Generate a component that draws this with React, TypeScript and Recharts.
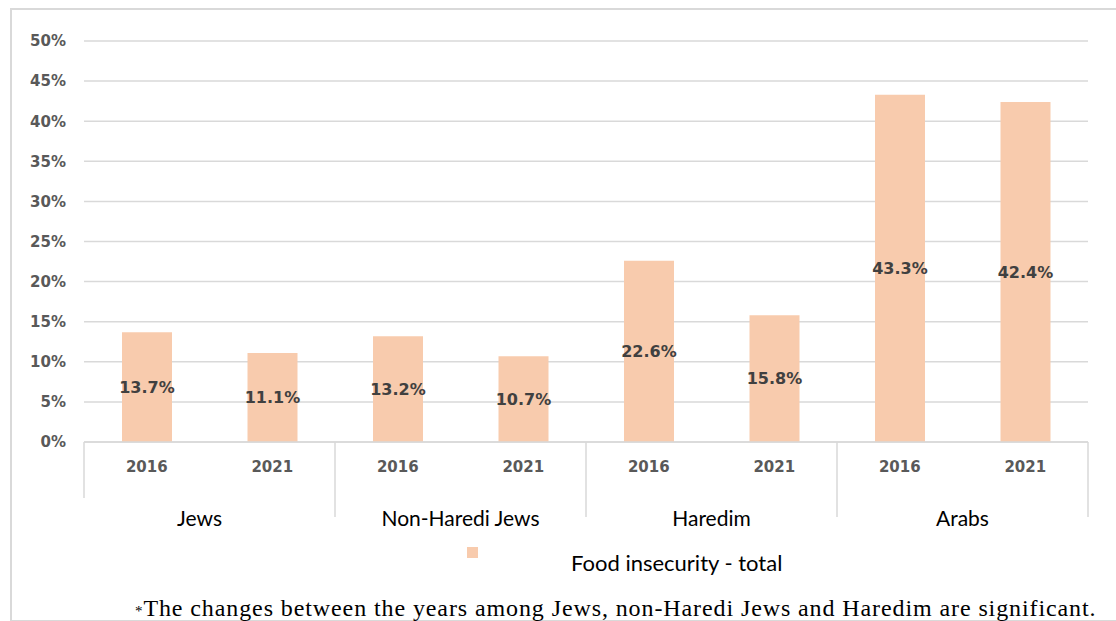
import React from 'react'
import { BarChart, Bar, XAxis, YAxis, CartesianGrid, LabelList } from 'recharts'

const GROUPS = ['Jews', 'Non-Haredi Jews', 'Haredim', 'Arabs']
const YEARS = ['2016', '2021']
const FOOD_INSECURITY = [13.7, 11.1, 13.2, 10.7, 22.6, 15.8, 43.3, 42.4]
const Y_TICKS = [0, 5, 10, 15, 20, 25, 30, 35, 40, 45, 50]

const data = GROUPS.flatMap((group, g) =>
  YEARS.map((year, y) => ({ group, year, total: FOOD_INSECURITY[g * YEARS.length + y] }))
)

const W = 1116
const H = 621
const HALF_BAND = (1088 - 84) / data.length / 2
const GRID = '#d9d9d9'
const BAR = '#f8cbad'

// year label, group separators and the group name under each pair of bars
const YearTick = (props: any) => {
  const { x, y, payload, index } = props
  const axisY = y - 8
  return (
    <g>
      <text x={x} y={axisY + 30} textAnchor="middle" fill="#595959"
        fontFamily="DejaVu Sans" fontWeight="bold" fontSize={15}>{payload.value}</text>
      {index % 2 === 0 && (
        <>
          <line x1={x - HALF_BAND} x2={x - HALF_BAND} y1={axisY} y2={index === 0 ? axisY + 56 : axisY + 75}
            stroke={GRID} strokeWidth={1.5} />
          <text x={x + HALF_BAND - (index === 0 ? 10 : 0)} y={axisY + 84} textAnchor="middle" fill="#000"
            fontFamily="Lato" fontSize={21}>{data[index].group}</text>
        </>
      )}
      {index === data.length - 1 && (
        <line x1={x + HALF_BAND} x2={x + HALF_BAND} y1={axisY} y2={axisY + 75}
          stroke={GRID} strokeWidth={1.5} />
      )}
    </g>
  )
}

export default function App() {
  return (
    <div style={{ position: 'absolute', left: 0, top: 0, width: W, height: H, background: '#fff' }}>
      <div style={{ position: 'absolute', left: 10, top: 8, width: 1110, height: 610, border: `2px solid ${GRID}` }} />
      <BarChart width={W} height={H} data={data} margin={{ top: 41, right: 28, bottom: 79, left: 0 }}>
        <CartesianGrid vertical={false} stroke={GRID} strokeWidth={1.5} />
        <XAxis dataKey="year" height={100} interval={0} tickLine={false}
          axisLine={{ stroke: GRID, strokeWidth: 1.5 }} tick={<YearTick />} />
        <YAxis width={84} domain={[0, 50]} ticks={Y_TICKS} interval={0} axisLine={false} tickLine={false}
          tickFormatter={(v) => `${v}%`}
          tick={{ fill: '#595959', fontFamily: 'DejaVu Sans', fontWeight: 'bold', fontSize: 15, dx: -10 }} />
        <Bar dataKey="total" fill={BAR} barSize={50} isAnimationActive={false}>
          <LabelList dataKey="total" position="center" formatter={(v: any) => `${v}%`}
            fill="#404040" fontFamily="DejaVu Sans" fontWeight="bold" fontSize={16} />
        </Bar>
      </BarChart>
      <div style={{ position: 'absolute', left: 467, top: 547, width: 11, height: 11, background: BAR }} />
      <div style={{ position: 'absolute', left: 571, top: 549, fontFamily: 'Lato', fontSize: 22, color: '#000' }}>
        Food insecurity - total
      </div>
      <div style={{ position: 'absolute', left: 135, top: 595, fontFamily: 'Liberation Serif', fontSize: 24, letterSpacing: 0.9, color: '#000', whiteSpace: 'nowrap' }}>
        <span style={{ fontSize: 15 }}>*</span>The changes between the years among Jews, non-Haredi Jews and Haredim are significant.
      </div>
    </div>
  )
}
